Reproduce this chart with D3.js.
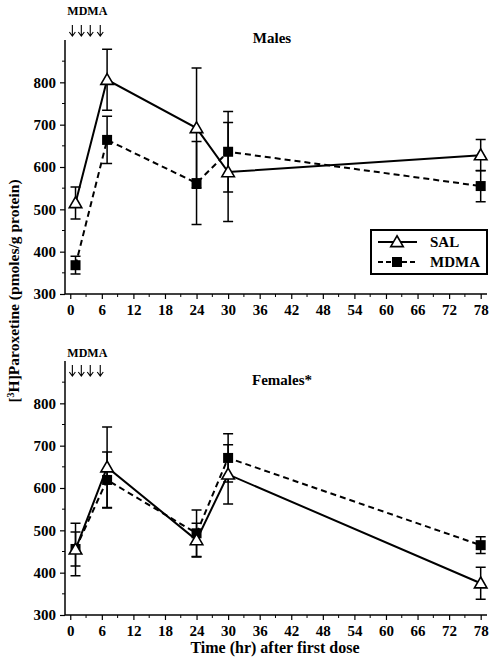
<!DOCTYPE html>
<html>
<head>
<meta charset="utf-8">
<script src="https://cdn.jsdelivr.net/npm/d3@7"></script>
<style>
  html, body { margin: 0; padding: 0; background: #fff; }
  svg { display: block; }
  text { font-family: "Liberation Serif", "Times New Roman", serif; font-weight: bold; fill: #000; }
</style>
</head>
<body>
<script>
// ---- data ----
const times = [1, 7, 24, 30, 78];
const malesSal = [515, 806, 692, 588, 628];
const malesSalErr = [38, 72, 142, 117, 37];
const malesMdma = [368, 664, 562, 636, 555];
const malesMdmaErr = [21, 56, 98, 95, 37];
const femalesSal = [455, 649, 477, 632, 375];
const femalesSalErr = [62, 95, 40, 70, 38];
const femalesMdma = [456, 619, 493, 671, 465];
const femalesMdmaErr = [40, 66, 55, 57, 20];
const doseTimes = [0.4, 2.1, 3.8, 5.7];
const xTickLabels = [0, 6, 12, 18, 24, 30, 36, 42, 48, 54, 60, 66, 72, 78];
const yTickLabels = [300, 400, 500, 600, 700, 800];
const seriesNames = ["SAL", "MDMA"];
const panelTitles = ["Males", "Females*"];

const W = 492, H = 661;
const svg = d3.select("body").append("svg").attr("width", W).attr("height", H);

const x = d3.scaleLinear().domain([-1, 79.2]).range([65, 487]);

const panels = [
  { title: panelTitles[0], sal: malesSal, salErr: malesSalErr, mdma: malesMdma, mdmaErr: malesMdmaErr,
    yRange: [294, 40], titleX: 272, titleY: 43, mdmaLabelY: 15, arrowTop: 25, legend: true },
  { title: panelTitles[1], sal: femalesSal, salErr: femalesSalErr, mdma: femalesMdma, mdmaErr: femalesMdmaErr,
    yRange: [615, 361], titleX: 282, titleY: 385, mdmaLabelY: 357, arrowTop: 365, legend: false }
];

panels.forEach(p => {
  const y = d3.scaleLinear().domain([300, 900]).range(p.yRange);
  const g = svg.append("g");

  // minor ticks y
  const yMinor = d3.range(350, 900, 100);
  g.selectAll(".ymin").data(yMinor).enter().append("line")
    .attr("x1", x(-1)).attr("x2", x(-1) - 3)
    .attr("y1", d => y(d)).attr("y2", d => y(d))
    .attr("stroke", "#000").attr("stroke-width", 1);
  // minor ticks x
  const xMinor = d3.range(3, 79, 6);
  g.selectAll(".xmin").data(xMinor).enter().append("line")
    .attr("x1", d => x(d)).attr("x2", d => x(d))
    .attr("y1", y(300)).attr("y2", y(300) + 3)
    .attr("stroke", "#000").attr("stroke-width", 1);

  // axes
  const yAxis = d3.axisLeft(y).tickValues(yTickLabels).tickSize(5).tickPadding(4).tickFormat(d3.format("d"));
  const ya = g.append("g").attr("transform", `translate(${x(-1)},0)`).call(yAxis);
  const xAxis = d3.axisBottom(x).tickValues(xTickLabels).tickSize(5).tickPadding(5).tickFormat(d3.format("d"));
  const xa = g.append("g").attr("transform", `translate(0,${y(300)})`).call(xAxis);
  [ya, xa].forEach(a => {
    a.select(".domain").attr("stroke", "#000").attr("stroke-width", 1.5);
    a.selectAll(".tick line").attr("stroke", "#000").attr("stroke-width", 1.2);
    a.selectAll(".tick text").style("font-family", '"Liberation Serif", serif')
      .style("font-weight", "bold").style("font-size", "15px").attr("fill", "#000");
  });
  ya.select(".domain").attr("d", `M0,${y(300)}V${y(900)}`);
  xa.select(".domain").attr("d", `M${x(-1)},0H${x(79.2)}`);

  // title
  g.append("text").attr("x", p.titleX).attr("y", p.titleY).attr("text-anchor", "middle")
    .style("font-size", "15px").text(p.title);

  // MDMA label + arrows
  g.append("text").attr("x", (x(doseTimes[0]) + x(doseTimes[3])) / 2 + 1).attr("y", p.mdmaLabelY)
    .attr("text-anchor", "middle").style("font-size", "12px").text(seriesNames[1]);
  doseTimes.forEach(t => {
    const ax = x(t), top = p.arrowTop, bot = p.arrowTop + 11;
    g.append("path").attr("d", `M${ax},${top}V${bot}M${ax - 3},${bot - 4}L${ax},${bot}L${ax + 3},${bot - 4}`)
      .attr("fill", "none").attr("stroke", "#000").attr("stroke-width", 1.1);
  });

  const line = d3.line().x((d, i) => x(times[i])).y(d => y(d));

  // lines
  g.append("path").datum(p.sal).attr("d", line).attr("fill", "none")
    .attr("stroke", "#000").attr("stroke-width", 2);
  g.append("path").datum(p.mdma).attr("d", line).attr("fill", "none")
    .attr("stroke", "#000").attr("stroke-width", 2).attr("stroke-dasharray", "6,4");

  // error bars
  const errs = (vals, ev) => {
    vals.forEach((v, i) => {
      const cx = x(times[i]);
      g.append("path")
        .attr("d", `M${cx},${y(v + ev[i])}V${y(v - ev[i])}M${cx - 5},${y(v + ev[i])}H${cx + 5}M${cx - 5},${y(v - ev[i])}H${cx + 5}`)
        .attr("fill", "none").attr("stroke", "#000").attr("stroke-width", 1.5);
    });
  };
  errs(p.sal, p.salErr);
  errs(p.mdma, p.mdmaErr);

  // markers
  const tri = d3.symbol().type(d3.symbolTriangle).size(68);
  g.selectAll(".sq").data(p.mdma).enter().append("rect")
    .attr("x", (d, i) => x(times[i]) - 5).attr("y", d => y(d) - 5)
    .attr("width", 10).attr("height", 10).attr("fill", "#000");
  g.selectAll(".tri").data(p.sal).enter().append("path")
    .attr("d", tri).attr("transform", (d, i) => `translate(${x(times[i])},${y(d) + 1})`)
    .attr("fill", "#fff").attr("stroke", "#000").attr("stroke-width", 1.6);

  if (p.legend) {
    const lg = g.append("g");
    lg.append("rect").attr("x", 371).attr("y", 230).attr("width", 116).attr("height", 44)
      .attr("fill", "#fff").attr("stroke", "#000").attr("stroke-width", 2);
    lg.append("line").attr("x1", 378).attr("x2", 417).attr("y1", 242).attr("y2", 242)
      .attr("stroke", "#000").attr("stroke-width", 2);
    lg.append("path").attr("d", tri).attr("transform", "translate(397,243)")
      .attr("fill", "#fff").attr("stroke", "#000").attr("stroke-width", 1.6);
    lg.append("line").attr("x1", 378).attr("x2", 417).attr("y1", 262).attr("y2", 262)
      .attr("stroke", "#000").attr("stroke-width", 2).attr("stroke-dasharray", "5,3");
    lg.append("rect").attr("x", 392).attr("y", 257).attr("width", 10).attr("height", 10).attr("fill", "#000");
    lg.append("text").attr("x", 430).attr("y", 247).style("font-size", "15px").text(seriesNames[0]);
    lg.append("text").attr("x", 430).attr("y", 267).style("font-size", "15px").text(seriesNames[1]);
  }
});

// y-axis title
const yt = svg.append("text").attr("transform", "translate(19,291) rotate(-90)")
  .attr("text-anchor", "middle").style("font-size", "15.5px");
yt.append("tspan").text("[");
yt.append("tspan").attr("baseline-shift", "super").style("font-size", "10px").text("3");
yt.append("tspan").text("H]Paroxetine (pmoles/g protein)");

// x-axis title
svg.append("text").attr("x", 275).attr("y", 653).attr("text-anchor", "middle")
  .style("font-size", "16px").text("Time (hr) after first dose");
</script>
</body>
</html>
